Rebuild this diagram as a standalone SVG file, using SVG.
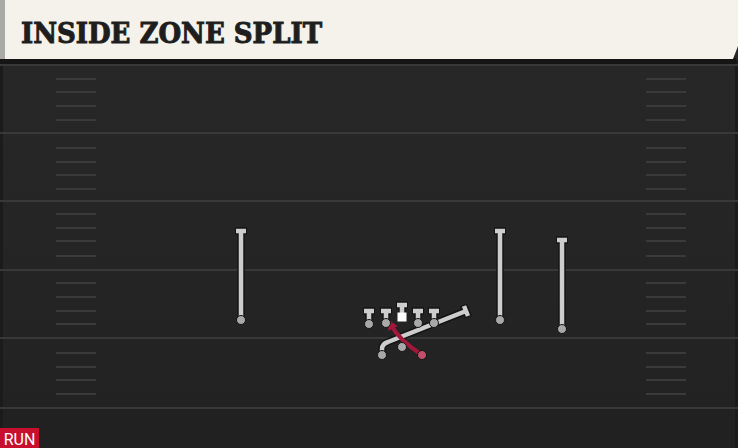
<svg xmlns="http://www.w3.org/2000/svg" width="738" height="448" viewBox="0 0 738 448">
<defs>
<style>
.yard{stroke:#383838;stroke-width:2}
.hash{stroke:#3a3a3a;stroke-width:2}
.out{fill:none;stroke:#141414;stroke-width:7.5;stroke-linecap:butt}
.rt{fill:none;stroke:#cdcdcd;stroke-width:4.5;stroke-linecap:butt}
.dot{fill:#a8a8a8;stroke:#141414;stroke-width:1}
.red{fill:none;stroke:#a3173a;stroke-width:4;stroke-linecap:round}
</style>
<marker id="ah" viewBox="0 0 10 10" refX="4" refY="5" markerWidth="2.6" markerHeight="2.6" orient="auto" markerUnits="strokeWidth">
<path d="M0,0 L10,5 L0,10 z" fill="#a3173a"/>
</marker>
<linearGradient id="fg" x1="0" y1="0" x2="0" y2="1">
<stop offset="0" stop-color="#282828"/>
<stop offset="1" stop-color="#222222"/>
</linearGradient>
</defs>
<rect x="0" y="0" width="738" height="448" fill="url(#fg)"/>
<rect x="0" y="408" width="738" height="40" fill="#212121"/>
<rect x="0" y="60" width="3" height="388" fill="#1b1b1b"/>
<rect x="735" y="60" width="3" height="388" fill="#1b1b1b"/>
<g id="field">
<line class="yard" x1="0" y1="65" x2="738" y2="65"/>
<line class="yard" x1="0" y1="133" x2="738" y2="133"/>
<line class="yard" x1="0" y1="201" x2="738" y2="201"/>
<line class="yard" x1="0" y1="270" x2="738" y2="270"/>
<line class="yard" x1="0" y1="338" x2="738" y2="338"/>
<line class="yard" x1="0" y1="408" x2="738" y2="408"/>
<g id="hashes-left">
<line class="hash" x1="56" y1="79" x2="96" y2="79"/><line class="hash" x1="56" y1="92" x2="96" y2="92"/><line class="hash" x1="56" y1="106" x2="96" y2="106"/><line class="hash" x1="56" y1="120" x2="96" y2="120"/>
<line class="hash" x1="56" y1="148" x2="96" y2="148"/><line class="hash" x1="56" y1="162" x2="96" y2="162"/><line class="hash" x1="56" y1="175" x2="96" y2="175"/><line class="hash" x1="56" y1="189" x2="96" y2="189"/>
<line class="hash" x1="56" y1="214" x2="96" y2="214"/><line class="hash" x1="56" y1="228" x2="96" y2="228"/><line class="hash" x1="56" y1="241" x2="96" y2="241"/><line class="hash" x1="56" y1="256" x2="96" y2="256"/>
<line class="hash" x1="56" y1="283" x2="96" y2="283"/><line class="hash" x1="56" y1="297" x2="96" y2="297"/><line class="hash" x1="56" y1="311" x2="96" y2="311"/><line class="hash" x1="56" y1="324" x2="96" y2="324"/>
<line class="hash" x1="56" y1="353" x2="96" y2="353"/><line class="hash" x1="56" y1="367" x2="96" y2="367"/><line class="hash" x1="56" y1="380" x2="96" y2="380"/><line class="hash" x1="56" y1="394" x2="96" y2="394"/>
</g>
<g id="hashes-right">
<line class="hash" x1="646" y1="79" x2="686" y2="79"/><line class="hash" x1="646" y1="92" x2="686" y2="92"/><line class="hash" x1="646" y1="106" x2="686" y2="106"/><line class="hash" x1="646" y1="120" x2="686" y2="120"/>
<line class="hash" x1="646" y1="148" x2="686" y2="148"/><line class="hash" x1="646" y1="162" x2="686" y2="162"/><line class="hash" x1="646" y1="175" x2="686" y2="175"/><line class="hash" x1="646" y1="189" x2="686" y2="189"/>
<line class="hash" x1="646" y1="214" x2="686" y2="214"/><line class="hash" x1="646" y1="228" x2="686" y2="228"/><line class="hash" x1="646" y1="241" x2="686" y2="241"/><line class="hash" x1="646" y1="256" x2="686" y2="256"/>
<line class="hash" x1="646" y1="283" x2="686" y2="283"/><line class="hash" x1="646" y1="297" x2="686" y2="297"/><line class="hash" x1="646" y1="311" x2="686" y2="311"/><line class="hash" x1="646" y1="324" x2="686" y2="324"/>
<line class="hash" x1="646" y1="353" x2="686" y2="353"/><line class="hash" x1="646" y1="367" x2="686" y2="367"/><line class="hash" x1="646" y1="380" x2="686" y2="380"/><line class="hash" x1="646" y1="394" x2="686" y2="394"/>
</g>
</g>
<g id="title">
<rect x="0" y="58" width="736" height="6" fill="#151515"/>
<polygon points="0,0 738,0 738,46 733,59 0,59" fill="#f5f2eb"/>
<rect x="0" y="0" width="5" height="59" fill="#a9a9a6"/>
<text x="21" y="43" font-family="'DejaVu Serif', serif" font-weight="bold" font-size="28" fill="#1e1e1e" stroke="#1e1e1e" stroke-width="1" textLength="301" lengthAdjust="spacingAndGlyphs">INSIDE ZONE SPLIT</text>
</g>
<g id="connectors">
<path class="out" d="M241,320 V231 M235,231 H247"/>
<path class="rt" d="M241,320 V231 M236,231 H246"/>
<path class="out" d="M500,320 V231 M494,231 H506"/>
<path class="rt" d="M500,320 V231 M495,231 H505"/>
<path class="out" d="M562,329 V240 M556,240 H568"/>
<path class="rt" d="M562,329 V240 M557,240 H567"/>
<path class="out" d="M369,324 V311 M363,311 H375"/>
<path class="rt" d="M369,324 V311 M364,311 H374"/>
<path class="out" d="M386,323 V311 M380,311 H392"/>
<path class="rt" d="M386,323 V311 M381,311 H391"/>
<path class="out" d="M402,318 V305 M396,305 H408"/>
<path class="rt" d="M402,318 V305 M397,305 H407"/>
<path class="out" d="M418,323 V311 M412,311 H424"/>
<path class="rt" d="M418,323 V311 M413,311 H423"/>
<path class="out" d="M434,323 V311 M428,311 H440"/>
<path class="rt" d="M434,323 V311 M429,311 H439"/>
<path class="out" d="M382,355 V349 Q382,344 388,342 L466,311 M463.5,305 L468.5,317"/>
<path class="rt" d="M382,355 V349 Q382,344 388,342 L466,311 M464,306 L468,316"/>
<path class="red" d="M422,355 Q399,340 391,325" marker-end="url(#ah)"/>
</g>
<g id="players">
<circle id="wr-left" class="dot" cx="241" cy="320" r="4.5"/>
<circle id="wr-right1" class="dot" cx="500" cy="320" r="4.5"/>
<circle id="wr-right2" class="dot" cx="562" cy="329" r="4.5"/>
<circle id="lt" class="dot" cx="369" cy="324" r="4.5"/>
<circle id="lg" class="dot" cx="386" cy="323" r="4.5"/>
<rect id="center" x="397.5" y="312.5" width="9" height="9" fill="#ffffff"/>
<circle id="rg" class="dot" cx="418" cy="323" r="4.5"/>
<circle id="rt" class="dot" cx="434" cy="323" r="4.5"/>
<circle id="qb" class="dot" cx="402" cy="347" r="4.5"/>
<circle id="te" class="dot" cx="382" cy="355" r="4.5"/>
<circle id="rb" cx="422" cy="355" r="4.5" fill="#c0506a" stroke="#141414" stroke-width="1"/>
</g>
<g id="run-badge">
<rect x="0" y="428" width="39" height="20" fill="#c8102e"/>
<text x="19.5" y="444.5" text-anchor="middle" font-family="Roboto, 'Liberation Sans', sans-serif" font-size="16" fill="#ffffff">RUN</text>
</g>
</svg>
